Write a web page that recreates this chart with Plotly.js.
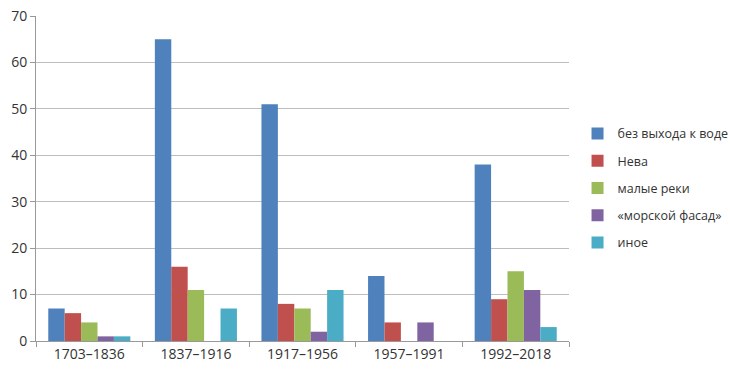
<!DOCTYPE html>
<html>
<head>
<meta charset="utf-8">
<script src="https://cdn.plot.ly/plotly-3.0.1.min.js"></script>
<style>html,body{margin:0;padding:0;background:#fff;}#chart{width:730px;height:376px;}</style>
</head>
<body>
<div id="chart"></div>
<script>
var categories = ["1703–1836", "1837–1916", "1917–1956", "1957–1991", "1992–2018"];
var seriesNames = ["без выхода к воде", "Нева", "малые реки", "«морской фасад»", "иное"];
var noWater = [7, 65, 51, 14, 38];
var neva = [6, 16, 8, 4, 9];
var smallRivers = [4, 11, 7, 0, 15];
var seaFacade = [1, 0, 2, 4, 11];
var other = [1, 7, 11, 0, 3];
var yTicks = [0, 10, 20, 30, 40, 50, 60, 70];

var colors = ["#4F81BD", "#C0504D", "#9BBB59", "#8064A2", "#4BACC6"];
var seriesValues = [noWater, neva, smallRivers, seaFacade, other];

var traces = seriesValues.map(function (vals, i) {
  return {
    type: "bar",
    name: seriesNames[i],
    x: categories,
    y: vals,
    marker: {color: colors[i]},
    legendgroup: "g" + i,
    hoverinfo: "x+y+name"
  };
});

var layout = {
  width: 730,
  height: 376,
  margin: {l: 36, r: 161, t: 16, b: 35, pad: 0, autoexpand: false},
  paper_bgcolor: "#fff",
  plot_bgcolor: "#fff",
  barmode: "group",
  bargap: 0.23,
  bargroupgap: 0,
  font: {family: "Open Sans, Noto Sans, sans-serif", color: "#333", size: 13},
  xaxis: {
    type: "category",
    tickson: "boundaries",
    ticks: "outside",
    ticklen: 5,
    tickcolor: "#999",
    showline: true,
    linecolor: "#999",
    linewidth: 1,
    showgrid: false,
    tickfont: {size: 14, color: "#333"},
    fixedrange: true,
    automargin: false
  },
  yaxis: {
    range: [0, 70],
    tickvals: yTicks,
    ticks: "outside",
    ticklen: 5,
    tickcolor: "#999",
    showline: true,
    linecolor: "#999",
    linewidth: 1,
    showgrid: true,
    gridcolor: "#bdbdbd",
    gridwidth: 1,
    zeroline: false,
    tickfont: {size: 14, color: "#333"},
    fixedrange: true,
    automargin: false
  },
  showlegend: true,
  legend: {
    x: 1.016,
    xanchor: "left",
    y: 0.47,
    yanchor: "middle",
    traceorder: "grouped",
    tracegroupgap: 8,
    font: {size: 12.5, color: "#333"},
    itemwidth: 30,
    bgcolor: "rgba(0,0,0,0)"
  }
};

Plotly.newPlot("chart", traces, layout, {displayModeBar: false, staticPlot: true});
</script>
</body>
</html>
